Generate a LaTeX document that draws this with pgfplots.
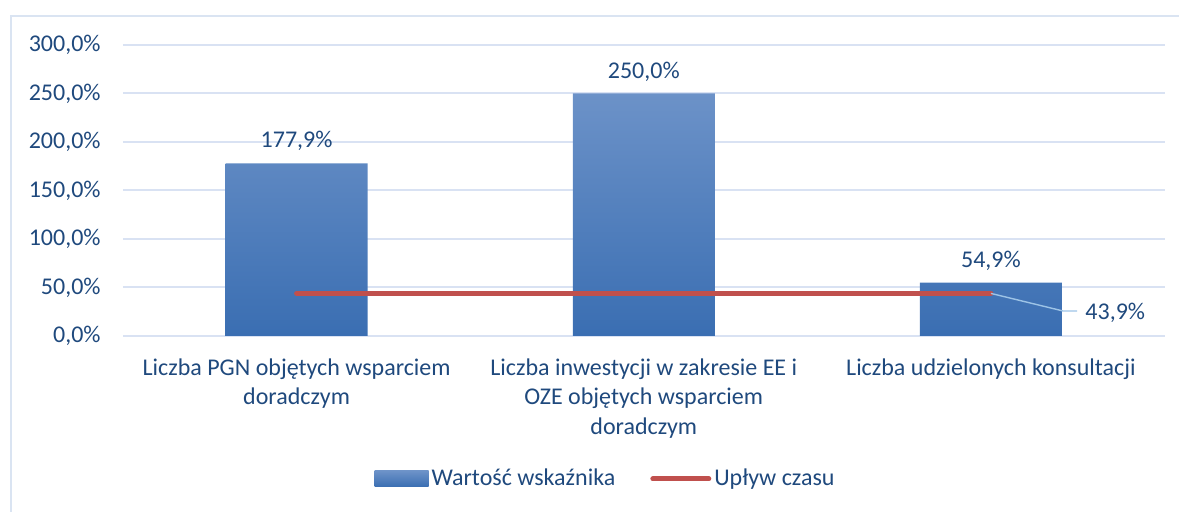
\documentclass[border=0pt]{standalone}
\usepackage{pgfplots}
\pgfplotsset{compat=1.18}
\usepackage{fontspec}
\setmainfont{Carlito}
\definecolor{txt}{RGB}{31,73,125}
\definecolor{gridc}{RGB}{217,226,243}
\definecolor{framec}{RGB}{218,228,242}
\definecolor{bartop}{RGB}{108,146,200}
\definecolor{barbot}{RGB}{58,110,178}
\definecolor{redl}{RGB}{192,80,77}
\definecolor{leader}{RGB}{157,195,230}
\begin{document}
\begin{tikzpicture}[x=1pt,y=1pt,font=\fontsize{12}{14.75}\selectfont,text=txt]
\draw[framec, line width=1pt] (5.5,0) -- (5.5,248) -- (600,248);
\begin{axis}[
  at={(61.5pt,88pt)}, anchor=south west,
  scale only axis, width=520.75pt, height=145.5pt,
  xmin=-0.5, xmax=2.5, ymin=0, ymax=300,
  ytick={0,50,...,300},
  xtick={0,1,2},
  xticklabels={{Liczba PGN objętych wsparciem\\doradczym},{Liczba inwestycji w zakresie EE i\\OZE objętych wsparciem\\doradczym},{Liczba udzielonych konsultacji}},
  xticklabel style={inner sep=0pt, anchor=north, yshift=-11pt, align=center, text=txt},
  yticklabel={\pgfmathprintnumber[fixed,fixed zerofill,precision=1,use comma]{\tick}\%},
  /pgf/number format/assume math mode=true,
  yticklabel style={inner sep=0pt, anchor=east, xshift=-11pt, text=txt},
  axis line style={draw=none},
  major tick length=0pt,
  ymajorgrids,
  grid style={gridc, line width=1pt},
  clip=false,
  point meta=explicit symbolic,
  nodes near coords,
  every node near coord/.append style={inner sep=0pt, anchor=south, yshift=6pt, text=txt},
  legend style={draw=none, fill=none, at={(0.4638,-0.4914)}, anchor=center,
    legend columns=2, inner sep=0pt,
    /tikz/every even column/.append style={column sep=16pt},
    nodes={inner sep=1.5pt, text=txt}},
]
\addplot[ybar, bar width=71pt, draw=none, top color=bartop, bottom color=barbot,
  legend image code/.code={\shade[top color=bartop,bottom color=barbot] (0pt,-4pt) rectangle (27pt,4pt);}]
  coordinates {(0,177.9) [177,9\%] (1,250.0) [250,0\%] (2,54.9) [54,9\%]};
\addlegendentry{Wartość wskaźnika}
\addplot[redl, line width=2.5pt, line cap=round, mark=none, nodes near coords={},
  legend image code/.code={\draw[redl, line width=2.5pt, line cap=round] (0pt,0pt) -- (28pt,0pt);}]
  coordinates {(0,43.9) (1,43.9) (2,43.9)};
\addlegendentry{Upływ czasu}
\draw[leader, line width=0.7pt] (axis cs:2,43.9) -- (axis cs:2.2075,25.8) -- (axis cs:2.248,25.8);
\node[anchor=west, inner sep=0pt, xshift=4pt, text=txt] at (axis cs:2.248,24.2) {43,9\%};
\end{axis}
\pgfresetboundingbox
\path[use as bounding box] (0,0) rectangle (589.5,256);
\end{tikzpicture}
\end{document}
